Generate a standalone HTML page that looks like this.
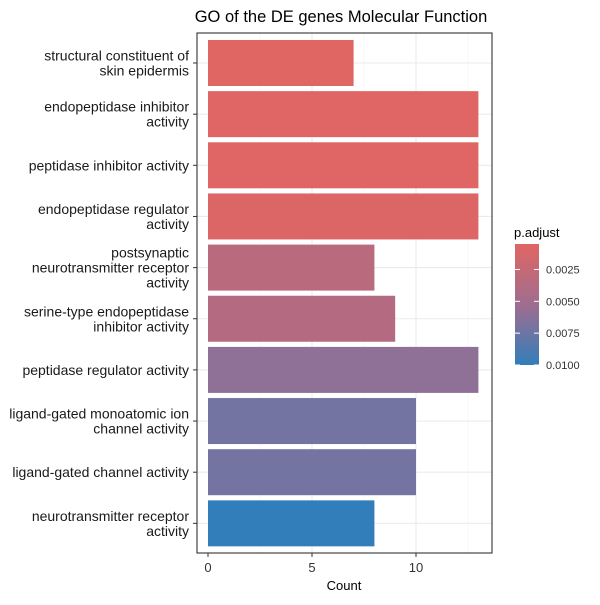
<!DOCTYPE html>
<html><head><meta charset="utf-8"><style>
body{margin:0;background:#fff;font-family:"Liberation Sans",Arial,sans-serif}
</style></head><body>
<svg id="c" width="600" height="600" xmlns="http://www.w3.org/2000/svg">
<defs><linearGradient id="lg" x1="0" y1="0" x2="0" y2="1">
<stop offset="0" stop-color="#e06663"/><stop offset="0.5" stop-color="#a06d8f"/><stop offset="1" stop-color="#327eba"/></linearGradient></defs>
<text x="341" y="22" text-anchor="middle" font-size="16.5" fill="#000">GO of the DE genes Molecular Function</text>
<g id="grid"></g><g id="bars"></g><g id="ylab"></g><g id="xt"></g>
<rect x="197" y="33" width="295" height="520" fill="none" stroke="#333" stroke-width="1.1"/>
<text x="344" y="590" text-anchor="middle" font-size="13">Count</text>
<text x="514" y="237" font-size="13">p.adjust</text>
<rect x="515" y="244" width="24" height="121" fill="url(#lg)"/>
<g id="leg"></g>
</svg>
<script>
const categories=["structural constituent of|skin epidermis","endopeptidase inhibitor|activity","peptidase inhibitor activity","endopeptidase regulator|activity","postsynaptic|neurotransmitter receptor|activity","serine-type endopeptidase|inhibitor activity","peptidase regulator activity","ligand-gated monoatomic ion|channel activity","ligand-gated channel activity","neurotransmitter receptor|activity"];
const counts=[7,13,13,13,8,9,13,10,10,8];
const padj=[0.0005,0.0006,0.0006,0.0008,0.0033,0.0038,0.0060,0.0072,0.0072,0.0100];
const xTicks=[0,5,10];
const legendTicks=[0.0025,0.0050,0.0075,0.0100];
const pMin=0.0005,pMax=0.0100;
const NS="http://www.w3.org/2000/svg";
const xs=v=>208+v*20.8;
const ys=i=>63+i*51.15;
const ly=p=>244+(p-pMin)/(pMax-pMin)*121;
function col(p){const t=(p-pMin)/(pMax-pMin);const a=[224,102,99],m=[160,109,143],b=[50,126,186];
let c=t<0.5?a.map((v,k)=>v+(m[k]-v)*t*2):m.map((v,k)=>v+(b[k]-v)*(t-0.5)*2);return `rgb(${c.map(Math.round).join(",")})`;}
function mk(tag,at,par,txt){const e=document.createElementNS(NS,tag);for(const k in at)e.setAttribute(k,at[k]);if(txt!==undefined)e.textContent=txt;document.getElementById(par).appendChild(e);return e;}
[2.5,5,7.5,10,12.5].forEach(v=>{const l=mk("line",{x1:xs(v),x2:xs(v),y1:33,y2:553,stroke:v%5?"#f3f3f3":"#ebebeb","stroke-width":v%5?0.6:1.1},"grid");

});
xTicks.forEach(v=>{const t=mk("line",{x1:xs(v),x2:xs(v),y1:553,y2:557,stroke:"#333"},"xt");


const tx=mk("text",{x:xs(v),y:572,"text-anchor":"middle","font-size":13,fill:"#333"},"xt",String(v));

});
categories.forEach((c,i)=>{const y=ys(i);
const g=mk("line",{x1:197,x2:492,y1:y,y2:y,stroke:"#ebebeb","stroke-width":1.1},"grid");


const r=mk("rect",{x:xs(0),y:y-23,width:xs(counts[i])-xs(0),height:46,fill:col(padj[i])},"bars");


const tk=mk("line",{x1:193,x2:197,y1:y,y2:y,stroke:"#333"},"ylab");


const lines=c.split("|");const t=mk("text",{"text-anchor":"end","font-size":14,fill:"#1a1a1a"},"ylab");


lines.forEach((s,j)=>{const sp=document.createElementNS(NS,"tspan");sp.setAttribute("x",189);sp.setAttribute("y",y+5+(j-(lines.length-1)/2)*15);sp.textContent=s;t.appendChild(sp);});});
legendTicks.forEach(p=>{const y=ly(p);
const a=mk("line",{x1:515,x2:520,y1:y,y2:y,stroke:"#fff"},"leg");


const b=mk("line",{x1:534,x2:539,y1:y,y2:y,stroke:"#fff"},"leg");


const t=mk("text",{x:546,y:y+4,"font-size":11,fill:"#333"},"leg",p.toFixed(4));

});
</script>
</body></html>
